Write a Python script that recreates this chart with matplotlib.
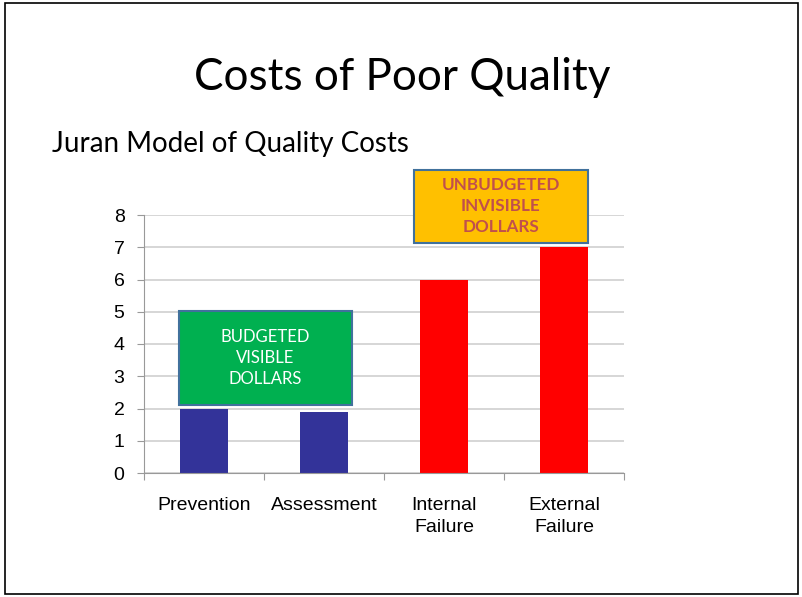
"""Juran model of quality costs slide."""

import matplotlib.pyplot as plt
from matplotlib.patches import Rectangle

categories = ["Prevention", "Assessment", "Internal\nFailure", "External\nFailure"]
values = [2.0, 1.9, 6.0, 7.0]
bar_colors = ["#333399", "#333399", "#ff0000", "#ff0000"]
y_ticks = [0, 1, 2, 3, 4, 5, 6, 7, 8]

W, H = 803, 597
fig = plt.figure(figsize=(W / 100, H / 100), dpi=100)

# slide border
fig.patches.append(Rectangle((5 / W, 3 / H), 793 / W, 591 / H, transform=fig.transFigure,
                             fill=False, edgecolor="black", linewidth=1.2))

fig.text(402 / W, 1 - 77 / H, "Costs of Poor Quality", ha="center", va="center",
         fontsize=31.7, family="Lato", color="black")
fig.text(52 / W, 1 - 144 / H, "Juran Model of Quality Costs", ha="left", va="center",
         fontsize=20, family="Lato", color="black")

ax = fig.add_axes([144 / W, 1 - 473 / H, 480 / W, 258 / H])
x = range(len(categories))
ax.bar(x, values, width=0.4, color=bar_colors, zorder=2)
ax.set_xlim(-0.5, 3.5)
ax.set_ylim(0, 8)
ax.set_yticks(y_ticks)
ax.set_xticks([-0.5, 0.5, 1.5, 2.5, 3.5])
ax.set_xticklabels([])
ax.set_xticks(list(x), minor=True)
ax.set_xticklabels(categories, minor=True, family="Liberation Sans", fontsize=14, linespacing=1.4)
ax.tick_params(axis="x", which="minor", length=0, pad=17)
ax.tick_params(axis="x", which="major", length=5, color="#999999", direction="out")
ax.tick_params(axis="y", length=5, color="#999999", labelsize=14, pad=9)
for lab in ax.get_yticklabels():
    lab.set_family("Liberation Sans")
ax.grid(axis="y", color="#d0d0d0", linewidth=1.2, zorder=0)
for side in ("top", "right"):
    ax.spines[side].set_visible(False)
ax.spines["left"].set_color("#999999")
ax.spines["bottom"].set_color("#999999")

# callout boxes
ax.add_patch(Rectangle((-0.208, 2.1), 1.441, 2.92, facecolor="#00b050", edgecolor="#41719c",
                       linewidth=1.5, zorder=3, clip_on=False))
ax.text(0.512, 3.56, "BUDGETED\nVISIBLE\nDOLLARS", ha="center", va="center", color="white",
        fontsize=12, family="Lato", linespacing=1.4, zorder=4)
ax.add_patch(Rectangle((1.75, 7.13), 1.45, 2.27, facecolor="#ffc000", edgecolor="#41719c",
                       linewidth=1.5, zorder=3, clip_on=False))
ax.text(2.475, 8.27, "UNBUDGETED\nINVISIBLE\nDOLLARS", ha="center", va="center", color="#c0504d",
        fontsize=12.3, family="Lato", fontweight="bold", linespacing=1.4, zorder=4, clip_on=False)

fig.savefig("out.png", dpi=100, facecolor="white")
